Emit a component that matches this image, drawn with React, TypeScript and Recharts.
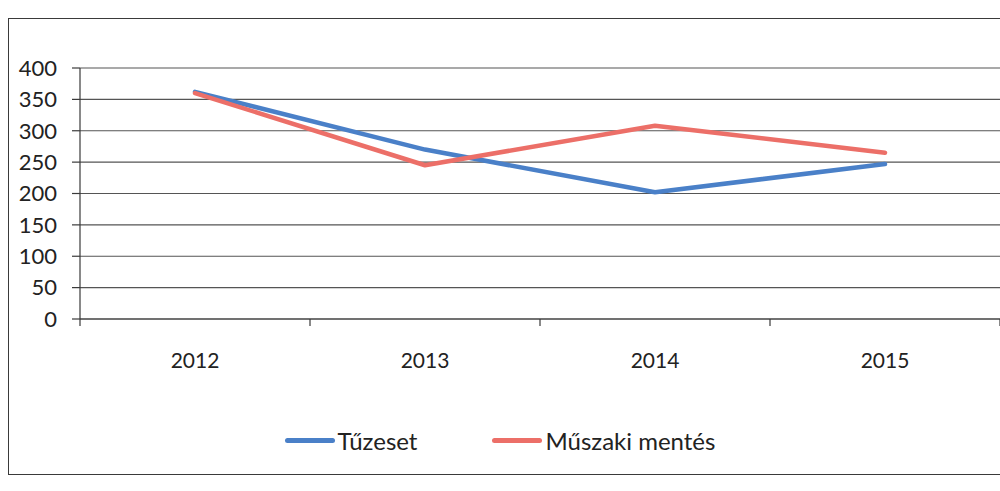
import React from 'react'
import { LineChart, Line, XAxis, YAxis, CartesianGrid, Legend } from 'recharts'

const years = ['2012', '2013', '2014', '2015']
const tuzeset = [362, 270, 202, 247]
const muszaki = [360, 245, 308, 265]
const yTicks = [0, 50, 100, 150, 200, 250, 300, 350, 400]
const seriesOrder = ['Tűzeset', 'Műszaki mentés']

const data = years.map((year, i) => ({ year, tuzeset: tuzeset[i], muszaki: muszaki[i] }))

const BLUE = '#4a80c8'
const RED = '#ec6f68'
const INK = '#3a3a3a'
const FONT = 'Lato, "Open Sans", sans-serif'

// category label plus Excel-style tick marks on the band edges
function YearTick({ x, y, payload, index }: any) {
  const half = payload.offset || 0
  return (
    <g>
      <line x1={x - half} x2={x - half} y1={y} y2={y + 7} stroke={INK} strokeWidth={1.2} />
      {index === years.length - 1 && (
        <line x1={x + half} x2={x + half} y1={y} y2={y + 7} stroke={INK} strokeWidth={1.2} />
      )}
      <text x={x} y={y + 34} dy="0.71em" textAnchor="middle" fill="#222" fontSize={21} fontFamily={FONT}>
        {payload.value}
      </text>
    </g>
  )
}

function LegendContent({ payload }: any) {
  const items = [...(payload || [])].sort(
    (a: any, b: any) => seriesOrder.indexOf(a.value) - seriesOrder.indexOf(b.value)
  )
  return (
    <div style={{ display: 'flex', justifyContent: 'center', gap: 75, fontFamily: FONT, fontSize: 24, color: '#222' }}>
      {items.map((p: any) => (
        <div key={p.value} style={{ display: 'flex', alignItems: 'center' }}>
          <span style={{ display: 'inline-block', width: 50, height: 5, borderRadius: 3, background: p.color, marginRight: 3 }} />
          <span>{p.value}</span>
        </div>
      ))}
    </div>
  )
}

export default function App() {
  return (
    <div style={{ position: 'relative', width: 1000, height: 491, overflow: 'hidden', background: '#fff' }}>
      <style>{'body{margin:0;overflow:hidden}'}</style>
      {/* scanned page frame */}
      <div style={{ position: 'absolute', left: 8, top: 18, width: 1010, height: 455, border: `1.5px solid ${INK}` }} />
      <div style={{ position: 'absolute', left: 0, top: 0 }}>
        {/* bottom margin leaves room for the x axis; the legend reserves its own height too */}
        <LineChart width={1000} height={491} data={data} margin={{ top: 68, right: 0, bottom: 83, left: 0 }}>
          <CartesianGrid horizontal vertical={false} stroke="#555" strokeWidth={1.2} />
          <XAxis
            dataKey="year"
            scale="band"
            height={60}
            axisLine={{ stroke: INK, strokeWidth: 1.2 }}
            tickLine={false}
            tickSize={0}
            tickMargin={0}
            interval={0}
            tick={<YearTick />}
          />
          <YAxis
            width={80}
            domain={[0, 400]}
            ticks={yTicks}
            interval={0}
            axisLine={{ stroke: INK, strokeWidth: 1.2 }}
            tickLine={{ stroke: INK, strokeWidth: 1.2 }}
            tickSize={8}
            tickMargin={15}
            tick={{ fill: '#222', fontSize: 22, fontFamily: FONT }}
          />
          <Legend
            content={<LegendContent />}
            wrapperStyle={{ top: 426, left: 0, width: 1000 }}
          />
          <Line
            name="Tűzeset"
            dataKey="tuzeset"
            stroke={BLUE}
            strokeWidth={4.5}
            strokeLinejoin="round"
            strokeLinecap="round"
            dot={false}
            activeDot={false}
            isAnimationActive={false}
          />
          <Line
            name="Műszaki mentés"
            dataKey="muszaki"
            stroke={RED}
            strokeWidth={4.5}
            strokeLinejoin="round"
            strokeLinecap="round"
            dot={false}
            activeDot={false}
            isAnimationActive={false}
          />
        </LineChart>
      </div>
    </div>
  )
}
